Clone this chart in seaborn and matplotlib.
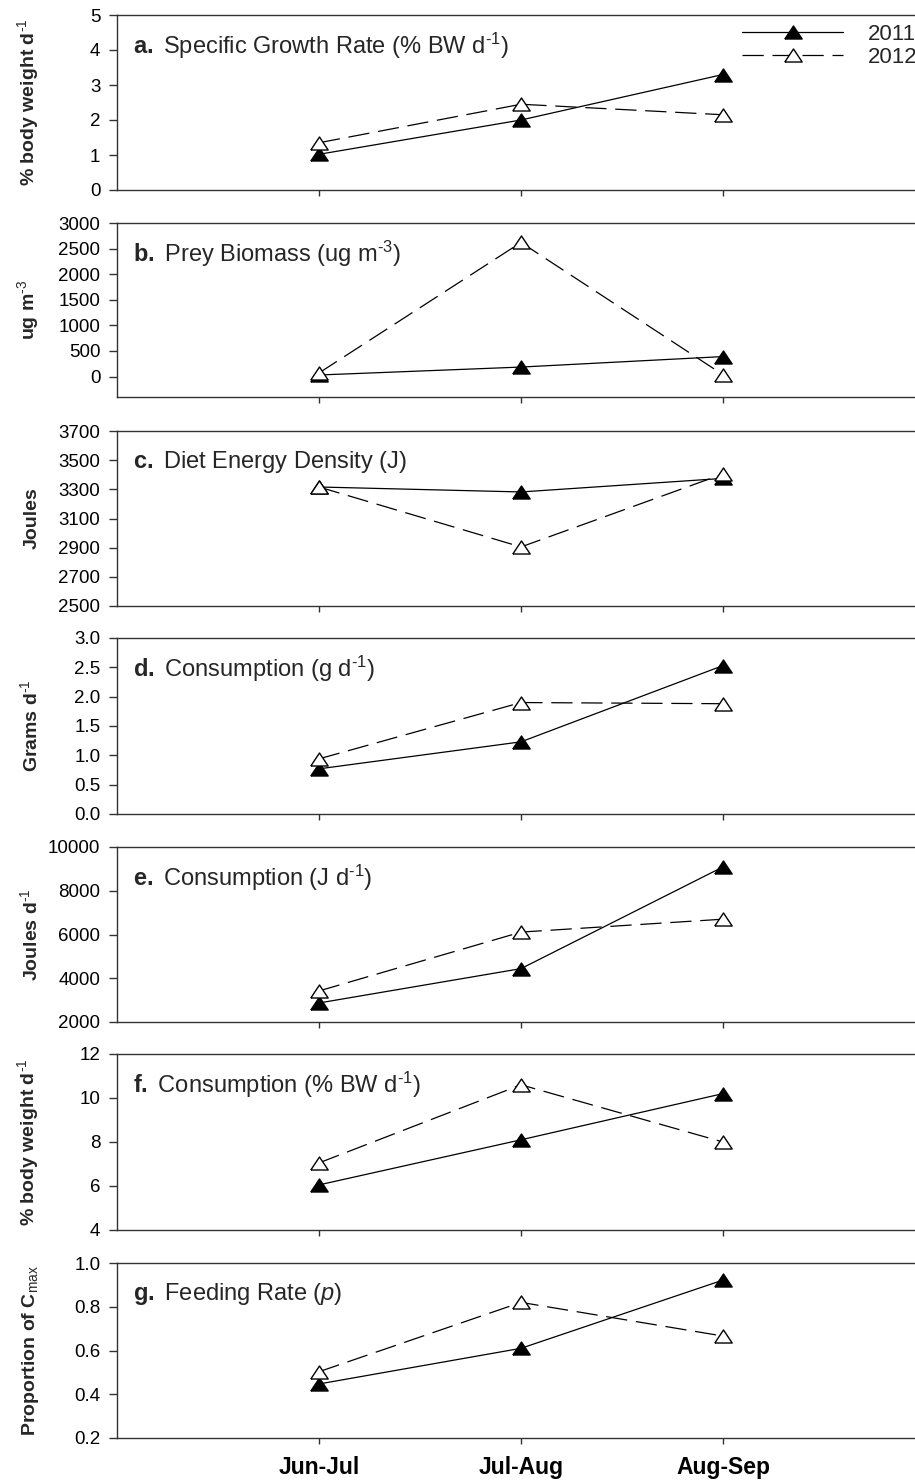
import matplotlib
matplotlib.use("Agg")
import matplotlib.pyplot as plt
import seaborn as sns
import pandas as pd
from matplotlib.lines import Line2D

sns.set_style("ticks")
plt.rcParams["font.family"] = ["Liberation Sans", "DejaVu Sans"]
plt.rcParams["mathtext.fontset"] = "custom"
plt.rcParams["mathtext.rm"] = "Liberation Sans"
plt.rcParams["mathtext.bf"] = "Liberation Sans:bold"
plt.rcParams["mathtext.it"] = "Liberation Sans:italic"

# ---------------- data ----------------
periods = ["Jun-Jul", "Jul-Aug", "Aug-Sep"]
years = ["2011", "2012"]

sgr_2011 = [1.02, 2.0, 3.3]
sgr_2012 = [1.35, 2.45, 2.15]

prey_2011 = [30, 185, 390]
prey_2012 = [70, 2620, 35]

energy_2011 = [3316, 3282, 3375]
energy_2012 = [3316, 2905, 3405]

cons_g_2011 = [0.77, 1.23, 2.53]
cons_g_2012 = [0.94, 1.9, 1.88]

cons_j_2011 = [2870, 4440, 9090]
cons_j_2012 = [3420, 6110, 6700]

cons_bw_2011 = [6.05, 8.1, 10.2]
cons_bw_2012 = [7.05, 10.6, 8.0]

p_2011 = [0.447, 0.61, 0.922]
p_2012 = [0.503, 0.82, 0.666]

panel_titles = [
    r"$\mathbf{a.}$ Specific Growth Rate (% BW d$^{\text{-1}}$)",
    r"$\mathbf{b.}$ Prey Biomass (ug m$^{\text{-3}}$)",
    r"$\mathbf{c.}$ Diet Energy Density (J)",
    r"$\mathbf{d.}$ Consumption (g d$^{\text{-1}}$)",
    r"$\mathbf{e.}$ Consumption (J d$^{\text{-1}}$)",
    r"$\mathbf{f.}$ Consumption (% BW d$^{\text{-1}}$)",
    r"$\mathbf{g.}$ Feeding Rate ($\mathit{p}$)",
]
y_labels = [
    r"% body weight d$^{\text{-1}}$",
    r"ug m$^{\text{-3}}$",
    "Joules",
    r"Grams d$^{\text{-1}}$",
    r"Joules d$^{\text{-1}}$",
    r"% body weight d$^{\text{-1}}$",
    r"Proportion of C$_{\text{max}}$",
]
y_limits = [(0, 5), (-400, 3000), (2500, 3700), (0, 3), (2000, 10000), (4, 12), (0.2, 1.0)]
y_ticks = [
    [0, 1, 2, 3, 4, 5],
    [0, 500, 1000, 1500, 2000, 2500, 3000],
    [2500, 2700, 2900, 3100, 3300, 3500, 3700],
    [0.0, 0.5, 1.0, 1.5, 2.0, 2.5, 3.0],
    [2000, 4000, 6000, 8000, 10000],
    [4, 6, 8, 10, 12],
    [0.2, 0.4, 0.6, 0.8, 1.0],
]
y_fmt = ["{:.0f}", "{:.0f}", "{:.0f}", "{:.1f}", "{:.0f}", "{:.0f}", "{:.1f}"]

series = [
    (sgr_2011, sgr_2012),
    (prey_2011, prey_2012),
    (energy_2011, energy_2012),
    (cons_g_2011, cons_g_2012),
    (cons_j_2011, cons_j_2012),
    (cons_bw_2011, cons_bw_2012),
    (p_2011, p_2012),
]

# ---------------- figure ----------------
W, H = 915, 1481
fig = plt.figure(figsize=(W / 100, H / 100), dpi=100)

tops = [15, 223, 431, 638, 847, 1054, 1263]
bottoms = [190, 397, 606, 814, 1022, 1230, 1438]
left_px, right_px = 117, 925

spine_col = "#333333"
tri = [(-1, -0.75), (1, -0.75), (0, 0.75), (-1, -0.75)]
mk = dict(marker=tri, markersize=12.5, markeredgecolor="black",
          markeredgewidth=1.0, linewidth=0.9)
styles = {
    "2011": dict(linestyle="-", markerfacecolor="black"),
    "2012": dict(linestyle=(0, (17, 7)), markerfacecolor="white"),
}

for i in range(7):
    ax = fig.add_axes([left_px / W, 1 - bottoms[i] / H,
                       (right_px - left_px) / W, (bottoms[i] - tops[i]) / H])
    v11, v12 = series[i]
    df = pd.DataFrame({
        "pos": list(range(3)) * 2,
        "period": periods * 2,
        "value": list(v11) + list(v12),
        "year": ["2011"] * 3 + ["2012"] * 3,
    })
    for yr in years:
        sub = df[df["year"] == yr]
        sns.lineplot(data=sub, x="pos", y="value", ax=ax, color="black",
                     errorbar=None, legend=False, **mk, **styles[yr])
    ax.set_xlim(-1, 3)
    ax.set_ylim(*y_limits[i])
    ax.set_yticks(y_ticks[i])
    ax.set_yticklabels([y_fmt[i].format(t) for t in y_ticks[i]], fontsize=13.5)
    ax.set_xticks(range(3))
    if i == 6:
        ax.set_xticklabels(periods, fontsize=16.5, fontweight="bold")
    else:
        ax.set_xticklabels([])
    ax.set_xlabel("")
    ax.set_ylabel(y_labels[i], fontsize=14, fontweight="bold")
    ax.yaxis.set_label_coords(-0.094, 0.5)
    ax.tick_params(axis="y", direction="out", length=6, width=1, pad=6, colors=spine_col, labelcolor="black")
    ax.tick_params(axis="x", direction="out", length=4, width=1, pad=9, colors=spine_col, labelcolor="black")
    for s in ["left", "top", "bottom"]:
        ax.spines[s].set_visible(True)
        ax.spines[s].set_color(spine_col)
        ax.spines[s].set_linewidth(1.0)
    ax.spines["right"].set_visible(False)
    fig.text(133 / W, 1 - (tops[i] + 31) / H, panel_titles[i], fontsize=17,
             ha="left", va="center")

    if i == 0:
        handles = [Line2D([], [], color="black", **mk, **styles[yr]) for yr in years]
        fig.legend(handles, years, loc="upper left",
                   bbox_to_anchor=(742 / W, 1 - 24 / H), bbox_transform=fig.transFigure,
                   frameon=False, fontsize=16, handlelength=4.55, handletextpad=1.1,
                   labelspacing=0.1, borderpad=0, borderaxespad=0)

fig.savefig("out.png", dpi=100)
